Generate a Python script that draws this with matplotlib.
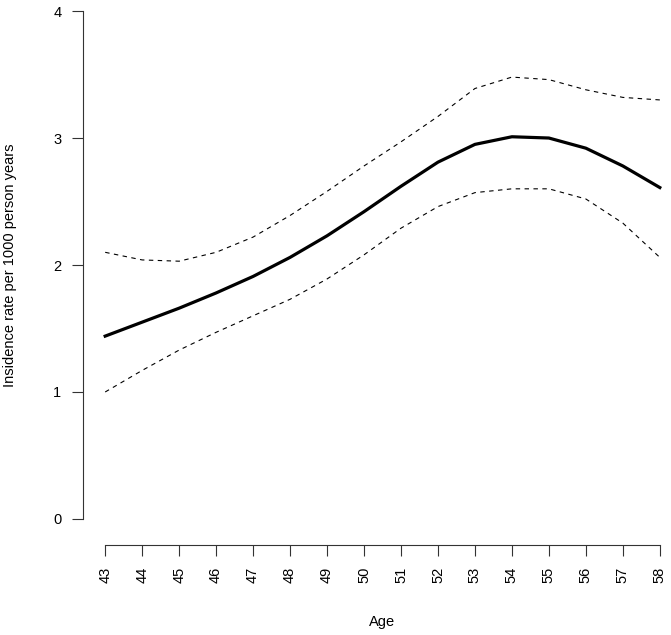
import numpy as np
import matplotlib
matplotlib.use('Agg')
import matplotlib.pyplot as plt

plt.rcParams['font.family'] = ['Liberation Sans', 'DejaVu Sans']

# data
age = [43, 44, 45, 46, 47, 48, 49, 50, 51, 52, 53, 54, 55, 56, 57, 58]
rate = [1.44, 1.55, 1.66, 1.78, 1.91, 2.06, 2.23, 2.42, 2.62, 2.81,
        2.95, 3.01, 3.00, 2.92, 2.78, 2.61]
upper = [2.10, 2.04, 2.03, 2.10, 2.22, 2.39, 2.58, 2.78, 2.97, 3.17,
         3.39, 3.48, 3.46, 3.38, 3.32, 3.30]
lower = [1.00, 1.17, 1.33, 1.47, 1.60, 1.73, 1.89, 2.08, 2.29, 2.46,
         2.57, 2.60, 2.60, 2.52, 2.33, 2.06]
yticks = [0, 1, 2, 3, 4]

W, H = 671, 635
fig = plt.figure(figsize=(W / 100, H / 100), dpi=100)
# plot region in pixels: x 83..682, y 0..545 (from top)
ax = fig.add_axes([83 / W, (H - 545) / H, (682 - 83) / W, 545 / H])

ax.plot(age, rate, color='black', lw=2.3, solid_joinstyle='round')
ax.plot(age, upper, color='black', lw=0.8, linestyle=(0, (4, 4)))
ax.plot(age, lower, color='black', lw=0.8, linestyle=(0, (4, 4)))

ax.set_xlim(42.4, 58.6)
ax.set_ylim(-0.205, 4.087)

for s in ['top', 'right']:
    ax.spines[s].set_visible(False)
ax.spines['left'].set_bounds(0, 4)
ax.spines['bottom'].set_bounds(43, 58)
for s in ['left', 'bottom']:
    ax.spines[s].set_linewidth(0.8)
    ax.spines[s].set_color('#333333')

ax.set_xticks(age)
ax.set_xticklabels([str(a) for a in age], rotation=90)
ax.set_yticks(yticks)
ax.set_yticklabels([str(t) for t in yticks])
ax.tick_params(axis='both', length=8, width=0.8, color='#333333',
               labelsize=10.5, pad=7.5)

ax.set_xlabel('Age', fontsize=10.5)
ax.set_ylabel('Insidence rate per 1000 person years', fontsize=10.5)
ax.xaxis.set_label_coords(0.499, -0.1284)
ax.yaxis.set_label_coords(-0.110, 0.514)

fig.savefig('out.png', dpi=100)
